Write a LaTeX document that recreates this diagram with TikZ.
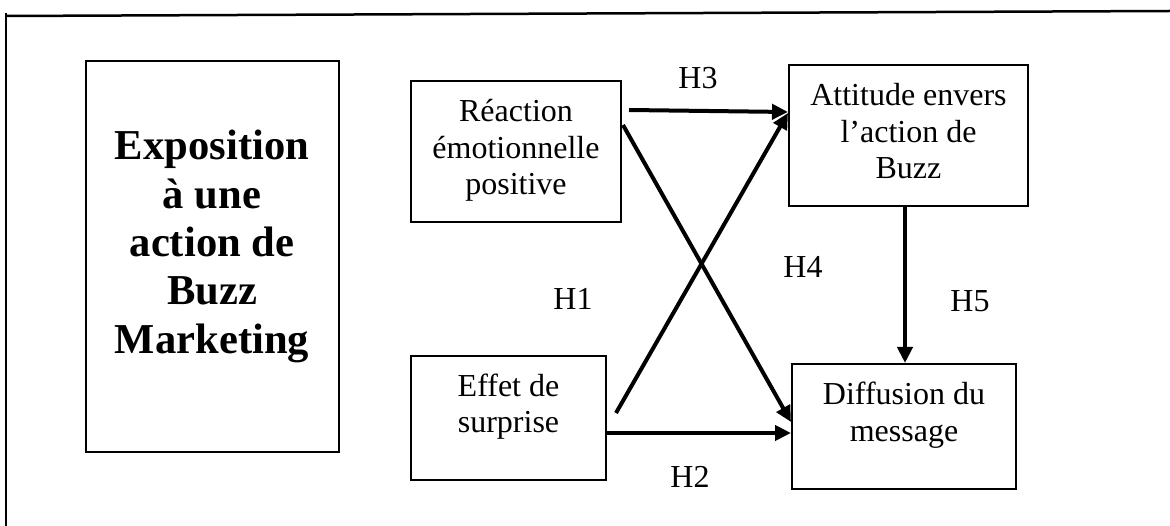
\documentclass[tikz,border=0pt]{standalone}
\usepackage{fontspec}
\setmainfont{Liberation Serif}
\usetikzlibrary{arrows.meta}
\tikzset{
  boxnode/.style={draw, line width=2pt, inner sep=0pt, fill=none},
  arr/.style={line width=4pt, -{Triangle[length=16pt,width=15pt]}},
  txt/.style={inner sep=0pt, anchor=base, font=\fontsize{32}{36.6}\selectfont},
  bigtxt/.style={inner sep=0pt, anchor=base, font=\bfseries\fontsize{42.6}{48.3}\selectfont},
  hlbl/.style={inner sep=0pt, anchor=center, font=\fontsize{32}{36.6}\selectfont},
  frameline/.style={line width=2.5pt}
}
\newcommand{\ctext}[1]{\parbox[t]{320pt}{\centering #1\par}}
\begin{document}
\begin{tikzpicture}[x=1pt,y=-1pt]
\useasboundingbox (0,0) rectangle (1170,526);
% frame
\coordinate (ftl) at (6,16);
\coordinate (ftr) at (1170,11);
\coordinate (flt) at (6,13);
\coordinate (flb) at (6,526);
\draw[frameline] (ftl) -- (ftr);
\draw[frameline] (flt) -- (flb);
% boxes
\node[boxnode, minimum width=253pt, minimum height=391pt] (expo) at (212.5,256.5) {};
\node[boxnode, minimum width=210pt, minimum height=141pt] (rea) at (516,151.5) {};
\node[boxnode, minimum width=239pt, minimum height=141pt] (att) at (908.5,135.5) {};
\node[boxnode, minimum width=195pt, minimum height=124pt] (eff) at (508.5,418) {};
\node[boxnode, minimum width=224pt, minimum height=125pt] (dif) at (904,426.5) {};
% texts
\node[bigtxt] (expot) at (212,160) {\ctext{Exposition\\à une\\action de\\Buzz\\Marketing}};
\node[txt] (reat) at (516,121.7) {\ctext{Réaction\\émotionnelle\\positive}};
\node[txt] (attt) at (908.5,105.7) {\ctext{Attitude envers\\l’action de\\Buzz}};
\node[txt] (efft) at (508.5,396) {\ctext{Effet de\\surprise}};
\node[txt] (dift) at (904,405) {\ctext{Diffusion du\\message}};
% connectors
\coordinate (h3s) at (629,110);
\coordinate (d1s) at (623,125);
\coordinate (d2s) at (616,413);
\draw[arr] (h3s) -- (att.west |- 0,112);
\draw[arr] (d1s) -- (dif.west |- 0,422);
\draw[arr] (d2s) -- (att.west |- 0,113);
\draw[arr] (eff.east |- 0,433) -- (dif.west |- 0,433);
\draw[arr] (att.south -| 905,0) -- (dif.north -| 905,0);
% labels
\node[hlbl] (lh3) at (698,78.5) {H3};
\node[hlbl] (lh4) at (803,267) {H4};
\node[hlbl] (lh1) at (573,299) {H1};
\node[hlbl] (lh5) at (970,301) {H5};
\node[hlbl] (lh2) at (690,477) {H2};
\end{tikzpicture}
\end{document}
